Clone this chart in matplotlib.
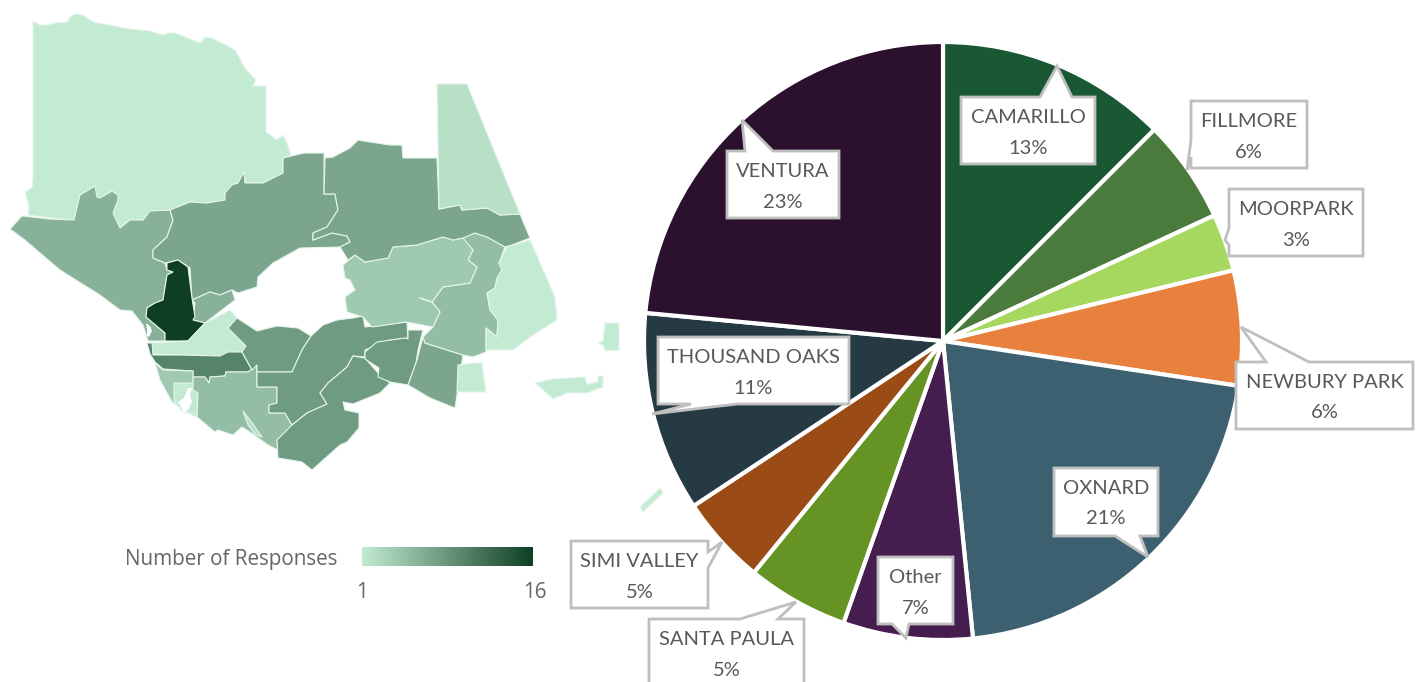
import numpy as np
import matplotlib
matplotlib.use("Agg")
import matplotlib.pyplot as plt
from collections import Counter
from matplotlib.colors import LinearSegmentedColormap, Normalize
from matplotlib.patches import Polygon

# ---------- pie data ----------
cities = ["CAMARILLO", "FILLMORE", "MOORPARK", "NEWBURY PARK", "OXNARD", "Other",
          "SANTA PAULA", "SIMI VALLEY", "THOUSAND OAKS", "VENTURA"]
shares = [12.5, 5.6, 3.1, 6.2, 21.0, 7.0, 5.5, 4.8, 10.8, 23.5]
share_labels = ["13%", "6%", "3%", "6%", "21%", "7%", "5%", "5%", "11%", "23%"]
pie_colors = ["#1a5733", "#4a7a3c", "#a6d75f", "#e8803e", "#3d6070", "#461d4f",
              "#659425", "#9a4b16", "#263a44", "#2b112e"]

# ---------- map data: responses per area ----------
scale_min, scale_max = 1, 16
area_north = [(33,21),(40,25),(47,25),(55,23),(67,22),(70,17),(75,14),(83,15),(90,20),(97,23),(110,25),(130,29),(150,31),(163,35),(168,33),(175,33),(190,39),(200,43),(205,37),(212,38),(222,43),(235,50),(245,68),(256,80),(253,86),(266,86),(266,132),(277,140),(283,135),(287,143),(291,155),(283,158),(283,173),(263,183),(245,183),(244,172),(238,183),(232,185),(230,192),(225,193),(225,200),(207,203),(190,202),(170,210),(150,211),(143,220),(130,220),(120,228),(113,213),(118,200),(118,195),(112,191),(100,198),(97,197),(95,186),(80,195),(74,220),(50,218),(28,215),(29,207),(25,192),(32,188),(33,177)]
area_west = [(10,229),(22,216),(50,219),(74,220),(80,195),(95,186),(97,197),(100,198),(112,191),(118,195),(118,200),(113,213),(120,228),(130,220),(143,220),(150,211),(170,210),(173,220),(167,237),(153,250),(153,258),(165,263),(167,270),(173,272),(167,275),(163,300),(155,303),(147,308),(146,317),(165,333),(165,341),(148,341),(143,325),(132,311),(120,310),(100,295),(60,270),(40,253),(25,240)]
area_north_center = [(170,210),(190,202),(207,203),(225,200),(225,193),(232,185),(238,183),(244,172),(245,183),(263,183),(283,173),(283,158),(304,153),(324,153),(324,194),(335,194),(338,210),(327,227),(313,233),(313,240),(332,233),(347,236),(350,242),(340,247),(300,248),(273,263),(258,277),(257,287),(238,293),(232,290),(220,295),(210,292),(192,300),(190,268),(178,260),(165,263),(153,258),(153,250),(167,237),(173,220)]
area_pocket = [(192,300),(210,292),(220,295),(232,290),(235,300),(205,323),(193,320),(195,303)]
area_dark = [(167,263),(178,260),(188,267),(190,283),(192,298),(195,317),(193,320),(205,323),(188,341),(165,341),(165,333),(146,317),(147,308),(155,303),(163,300),(167,275),(173,272),(167,270)]
area_band = [(230,310),(237,318),(228,328),(246,346),(242,352),(220,356),(180,355),(152,354),(152,343),(188,341),(205,323)]
area_strip = [(147,343),(152,343),(153,355),(180,355),(220,356),(228,352),(242,352),(252,370),(248,372),(226,372),(225,376),(210,377),(209,383),(205,377),(193,377),(193,371),(163,369),(155,362),(150,354)]
area_coast = [(155,363),(163,370),(193,371),(193,390),(198,393),(197,417),(183,411),(172,402),(160,380)]
area_coast_inner = [(174,383),(192,383),(198,393),(197,415),(183,411),(174,402)]
area_south_west = [(193,377),(205,377),(209,383),(210,377),(225,376),(226,372),(248,372),(257,365),(257,387),(277,387),(277,403),(269,405),(269,413),(285,413),(292,425),(290,432),(277,440),(278,450),(268,445),(257,437),(250,432),(242,427),(233,435),(218,430),(215,432),(197,417),(198,393),(193,390)]
area_sliver = [(243,411),(250,420),(262,437),(255,434),(248,425)]
area_mid = [(237,318),(257,331),(277,326),(298,328),(311,336),(302,350),(292,372),(257,372),(257,365),(252,370),(242,352),(246,346),(228,328)]
area_center = [(311,336),(323,325),(337,320),(353,318),(363,316),(365,327),(407,322),(408,338),(390,340),(365,350),(365,357),(353,356),(347,367),(328,383),(320,393),(327,404),(307,413),(292,425),(285,413),(269,413),(269,405),(277,403),(277,387),(257,387),(257,372),(292,372),(302,350)]
area_south = [(277,440),(292,425),(307,413),(327,404),(320,393),(328,383),(347,367),(353,356),(365,358),(378,373),(390,383),(380,393),(353,404),(343,402),(345,410),(359,413),(359,428),(347,442),(340,445),(312,470),(302,462),(278,458)]
area_inland = [(365,352),(377,342),(405,338),(408,339),(408,330),(423,330),(418,350),(416,363),(408,385),(390,382),(378,377),(379,368),(365,359)]
area_southeast = [(408,385),(417,360),(423,337),(425,343),(463,355),(455,408),(430,398)]
area_east = [(463,238),(475,233),(487,237),(505,247),(499,263),(502,270),(497,278),(495,288),(487,293),(490,310),(498,320),(497,337),(486,328),(486,352),(473,357),(463,355),(425,343),(423,337),(427,333),(433,327),(440,312),(432,302),(420,298),(432,302),(443,287),(470,283),(477,267),(468,260),(473,250),(463,242)]
area_valley = [(343,265),(355,255),(365,262),(388,258),(393,247),(417,245),(443,237),(453,240),(463,238),(473,250),(468,260),(477,267),(470,283),(443,287),(432,302),(420,298),(432,302),(440,312),(433,327),(406,322),(372,327),(363,317),(347,312),(345,297),(355,290),(350,280),(345,278)]
area_northeast = [(325,158),(333,157),(350,148),(358,140),(370,142),(390,145),(402,145),(403,158),(437,158),(439,209),(460,205),(462,210),(487,208),(500,215),(520,214),(530,238),(512,245),(505,247),(487,237),(475,233),(463,238),(453,240),(443,237),(417,245),(393,247),(388,258),(365,262),(355,255),(348,260),(340,247),(350,242),(347,236),(332,233),(313,240),(313,233),(327,227),(338,210),(335,194),(324,194)]
area_far_east = [(437,84),(467,84),(520,214),(500,215),(487,208),(462,210),(460,205),(439,209)]
area_edge = [(530,240),(555,297),(557,320),(530,337),(513,350),(486,350),(486,328),(497,337),(498,320),(490,310),(487,293),(495,288),(497,278),(502,270),(499,263),(507,247)]
area_shore = [(458,365),(473,363),(482,363),(486,392),(457,392)]
island_one = [(605,323),(619,323),(619,350),(605,351),(603,345),(598,343),(603,341)]
island_two = [(535,383),(553,379),(585,377),(587,384),(598,382),(598,376),(603,376),(603,387),(587,393),(567,393),(553,399),(543,390),(540,387)]
island_three = [(640,507),(660,488),(663,493),(643,512)]

map_areas = [
    (area_north, 1), (area_west, 6), (area_north_center, 7), (area_pocket, 6),
    (area_dark, 16), (area_band, 1), (area_strip, 10), (area_coast, 4),
    (area_coast_inner, 1), (area_south_west, 5), (area_sliver, 2), (area_mid, 8), (area_center, 8),
    (area_south, 8), (area_inland, 8), (area_southeast, 7), (area_east, 5),
    (area_valley, 4), (area_northeast, 7), (area_far_east, 2), (area_edge, 1),
    (area_shore, 1), (island_one, 1), (island_two, 1), (island_three, 1),
]
unmapped_holes = [
    [(188,388),(192,388),(190,395),(192,402),(188,410),(184,412),(180,405),(178,402),(184,398)],
    [(146,323),(150,326),(152,331),(149,337),(147,336),(147,330)],
]

legend_title = "Number of Responses"

# ---------- callout outlines, in order of cities ----------
callouts = [
    [(961,97),(1040,97),(1057,66),(1072,97),(1095,97),(1095,164),(961,164)],
    [(1191,101),(1307,101),(1307,168),(1191,168),(1191,157),(1187,170),(1191,140)],
    [(1229,189),(1363,189),(1363,256),(1229,256),(1229,245),(1225,240),(1229,228)],
    [(1236,362),(1266,362),(1241,327),(1309,362),(1413,362),(1413,429),(1236,429)],
    [(1054,468),(1158,468),(1158,536),(1140,536),(1148,557),(1115,536),(1054,536)],
    [(878,557),(953,557),(953,624),(909,624),(906,638),(892,624),(878,624)],
    [(649,619),(740,619),(796,602),(778,619),(804,619),(804,686),(649,686)],
    [(571,541),(708,541),(708,552),(722,542),(708,568),(708,608),(571,608)],
    [(658,337),(849,337),(849,404),(737,404),(652,414),(691,404),(658,404)],
    [(727,151),(745,151),(742,120),(773,151),(839,151),(839,218),(727,218)],
]

W, H = 1421, 682
fig = plt.figure(figsize=(W / 100, H / 100), dpi=100, facecolor="white")

cmap = LinearSegmentedColormap.from_list("resp", ["#c3ebd3", "#0e3f25"])
norm = Normalize(scale_min, scale_max)

cx, cy, half = 943, 341, 310
pie_ax = fig.add_axes([(cx - half) / W, 1 - (cy + half) / H, 2 * half / W, 2 * half / H], zorder=2)
pie_ax.pie(shares, colors=pie_colors, startangle=90, counterclock=False, radius=299,
           wedgeprops=dict(edgecolor="white", linewidth=3, joinstyle="miter"))
pie_ax.set_xlim(-half, half)
pie_ax.set_ylim(-half, half)
pie_ax.axis("off")

ax = fig.add_axes([0, 0, 1, 1], zorder=3)
ax.set_xlim(0, W)
ax.set_ylim(H, 0)
ax.axis("off")
ax.patch.set_alpha(0)

for outline, count in map_areas:
    ax.add_patch(Polygon(outline, closed=True, facecolor=cmap(norm(count)),
                         edgecolor="#e6f4ec", linewidth=0.8, joinstyle="round"))
for hole in unmapped_holes:
    ax.add_patch(Polygon(hole, closed=True, facecolor="white", edgecolor="none"))

for outline, city, pct in zip(callouts, cities, share_labels):
    ax.add_patch(Polygon(outline, closed=True, facecolor="white", edgecolor="#bfbfbf",
                         linewidth=2, joinstyle="miter"))
    x_counts = Counter(p[0] for p in outline)
    y_counts = Counter(p[1] for p in outline)
    box_xs = [x for x, n in x_counts.items() if n >= 2]
    box_top = min(y for y, n in y_counts.items() if n >= 2)
    mid = (min(box_xs) + max(box_xs)) / 2
    ax.text(mid, box_top + 20.5, city, ha="center", va="center", fontsize=14.5,
            family="Lato", color="#595959")
    ax.text(mid, box_top + 51, pct, ha="center", va="center", fontsize=14.5,
            family="Lato", color="#595959")

ax.text(125, 559.5, legend_title, ha="left", va="center", fontsize=14.85,
        family="Open Sans", color="#666666")
ax.text(362, 593, str(scale_min), ha="center", va="center", fontsize=14.85,
        family="Open Sans", color="#666666")
ax.text(535, 593, str(scale_max), ha="center", va="center", fontsize=14.85,
        family="Open Sans", color="#666666")

bar_ax = fig.add_axes([362 / W, 1 - 566 / H, 171 / W, 19 / H], zorder=4)
bar_ax.imshow(np.linspace(scale_min, scale_max, 256)[None, :], aspect="auto", cmap=cmap, norm=norm)
bar_ax.axis("off")

fig.savefig("out.png", dpi=100, facecolor="white")
